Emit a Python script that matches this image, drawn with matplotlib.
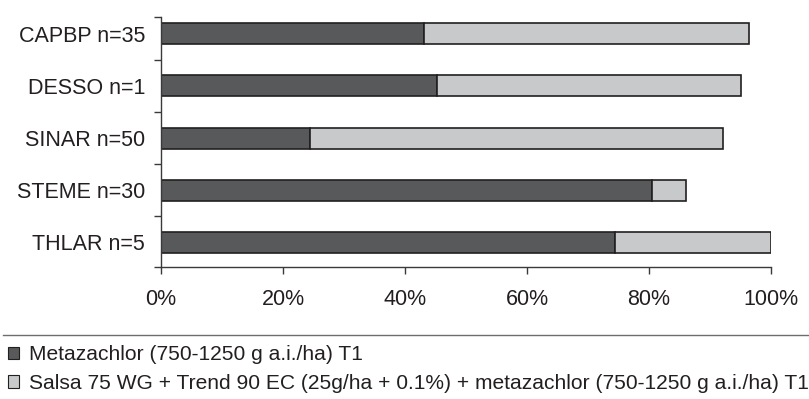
import matplotlib.pyplot as plt
from matplotlib.patches import Patch
from matplotlib.lines import Line2D

categories = ['THLAR n=5', 'STEME n=30', 'SINAR n=50', 'DESSO n=1', 'CAPBP n=35']
metazachlor = [74.4, 80.5, 24.4, 45.2, 43.1]
salsa_mix = [25.6, 5.6, 67.7, 49.9, 53.3]
xticks = [0, 20, 40, 60, 80, 100]
legend_labels = ['Metazachlor (750-1250 g a.i./ha) T1',
                 'Salsa 75 WG + Trend 90 EC (25g/ha + 0.1%) + metazachlor (750-1250 g a.i./ha) T1']

dark = '#58595b'
light = '#c8c9cb'
edge = '#231f20'
txt = '#231f20'

plt.rcParams['font.family'] = ['Liberation Sans', 'DejaVu Sans']

fig = plt.figure(figsize=(8.09, 3.99), dpi=100)
ax = fig.add_axes([161 / 809, 132 / 399, 610 / 809, 250 / 399])

y = list(range(len(categories)))
ax.barh(y, metazachlor, height=0.4, color=dark, edgecolor=edge, linewidth=1.2)
ax.barh(y, salsa_mix, left=metazachlor, height=0.4, color=light, edgecolor=edge, linewidth=1.2)

ax.set_xlim(0, 100)
ax.set_ylim(-0.47, 4.32)

for s in ['top', 'right']:
    ax.spines[s].set_visible(False)
for s in ['left', 'bottom']:
    ax.spines[s].set_color('#3a3a3a')
    ax.spines[s].set_linewidth(1.0)

ax.set_xticks(xticks)
ax.set_xticklabels([f'{v}%' for v in xticks])
ax.tick_params(axis='x', length=5, width=1, color='#3a3a3a', pad=11, labelsize=15.5, labelcolor=txt)

ax.set_yticks(y)
ax.set_yticklabels(categories)
ax.tick_params(axis='y', which='major', length=0, pad=11.5, labelsize=15.5, labelcolor=txt)
ax.set_yticks([-0.47, 0.5, 1.5, 2.5, 3.5, 4.32], minor=True)
ax.tick_params(axis='y', which='minor', length=5, width=1, color='#3a3a3a')

fig.add_artist(Line2D([0.004, 1], [1 - 335 / 399, 1 - 335 / 399], color='#6d6e70', linewidth=1.0))

handles = [Patch(facecolor=dark, edgecolor=edge, linewidth=0.8),
           Patch(facecolor=light, edgecolor=edge, linewidth=0.8)]
fig.legend(handles, legend_labels, loc='upper left', bbox_to_anchor=(0.002, 1 - 339 / 399),
           frameon=False, fontsize=15.1, handlelength=0.55, handleheight=0.55, handletextpad=0.45,
           labelspacing=0.45, borderaxespad=0, borderpad=0.3, labelcolor=txt)

fig.savefig('out.png', dpi=100)
